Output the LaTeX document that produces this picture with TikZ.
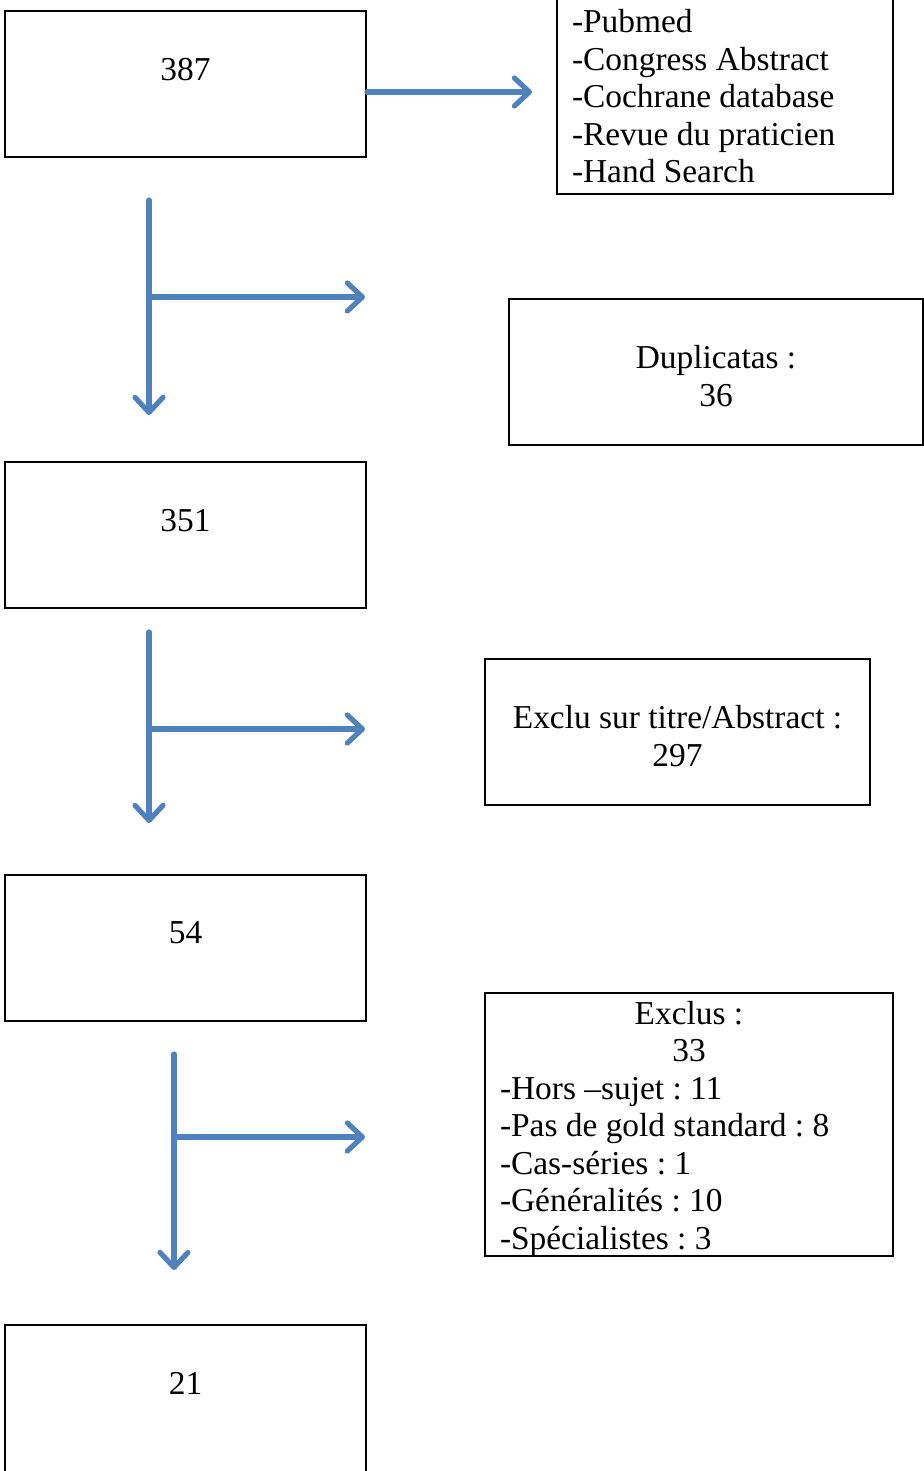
\documentclass[tikz,border=0pt]{standalone}
\usepackage{fontspec}
\setmainfont{Liberation Serif}
\usetikzlibrary{arrows.meta,positioning}
\definecolor{flowblue}{HTML}{4F81BD}
\frenchspacing
\newcommand\gapstrut{\rule{0pt}{15.7pt}}

\begin{document}
\begin{tikzpicture}[
    x=0.5pt, y=-0.5pt,
    font=\fontsize{16.7}{18.75}\selectfont,
    box/.style={rectangle, draw=black, line width=1pt, align=center, inner sep=0pt},
    count/.style={box, minimum width=180.5pt, minimum height=73pt,
        label={[anchor=north, inner sep=0pt, yshift=-23.8pt]north:#1}},
    flow/.style={draw=flowblue, line width=2.6pt, line cap=round,
        -{Straight Barb[length=7.5pt, width=14pt, line cap=round, line join=round]}}
]
\useasboundingbox (0,0) rectangle (924,1471);

% counts
\node[count=387] (n387) at (185.5,84) {};
\node[count=351] (n351) at (185.5,535) {};
\node[count=54] (n54) at (185.5,947.5) {};
\node[count=21, minimum height=80pt] (n21) at (185.5,1405) {};

% sources
\node[box, align=flush left, text width=153pt, inner xsep=7.5pt, minimum height=102pt] (src) at (725,92)
    {\gapstrut-Pubmed\\-Congress Abstract\\-Cochrane database\\-Revue du praticien\\-Hand Search};

% exclusions
\node[box, minimum width=207pt, minimum height=73pt] (dup) at (716,372) {\gapstrut Duplicatas :\\36};
\node[box, minimum width=192.5pt, minimum height=73pt] (titre) at (677.5,732) {\gapstrut Exclu sur titre/Abstract :\\297};
\node[box, align=flush left, text width=189pt, inner xsep=7.5pt, minimum height=131.5pt] (exclus) at (689,1124.5)
    {{\centering\gapstrut Exclus :\\33\par}
     -Hors --sujet : 11\\-Pas de gold standard : 8\\-Cas-séries : 1\\-Généralités : 10\\-Spécialistes : 3};

\draw[flow] (n387.east |- src.west) -- ([xshift=-12pt]src.west);

% branches
\coordinate (top1) at (149,200);
\coordinate (end1) at (149,415);
\coordinate (out1) at (365,297);
\draw[flow] (top1) -- (end1);
\draw[flow] (top1 |- out1) -- (out1);

\coordinate (top2) at (149,632);
\coordinate (end2) at (149,823);
\coordinate (out2) at (365,729);
\draw[flow] (top2) -- (end2);
\draw[flow] (top2 |- out2) -- (out2);

\coordinate (top3) at (174,1054);
\coordinate (end3) at (174,1270);
\coordinate (out3) at (365,1137);
\draw[flow] (top3) -- (end3);
\draw[flow] (top3 |- out3) -- (out3);

\end{tikzpicture}
\end{document}
